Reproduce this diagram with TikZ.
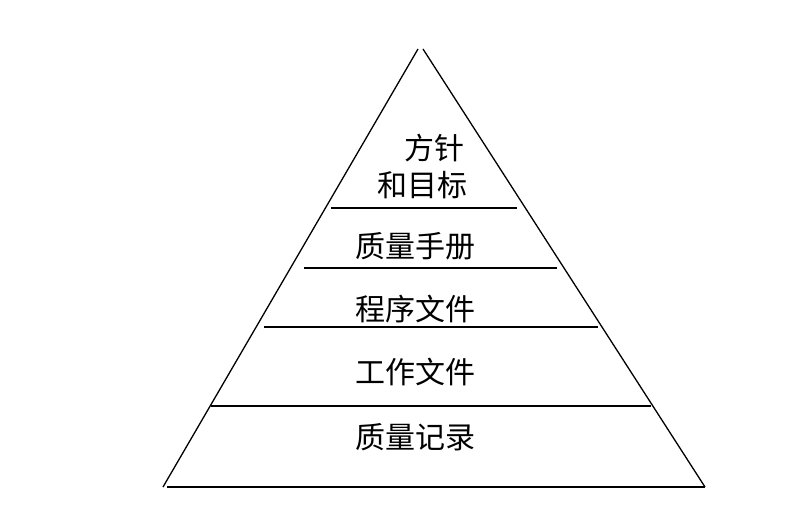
\documentclass[tikz,border=0pt]{standalone}
\usepackage{fontspec}
\newfontfamily\cjk{Noto Sans CJK SC}

\begin{document}
\begin{tikzpicture}[x=1pt,y=-1pt,
  layer/.style={font=\cjk\fontsize{30}{35}\selectfont,inner sep=0pt},
  edge/.style={line width=1.3pt}]
\useasboundingbox (0,0) rectangle (800,521);
\coordinate (T0) at (418,49);
\coordinate (T1) at (423,49);
\coordinate (B0) at (163,487);
\coordinate (B1) at (705,487);
\coordinate (L1) at (331,208);
\coordinate (R1) at (517,208);
\coordinate (L2) at (304,268);
\coordinate (R2) at (557,268);
\coordinate (L3) at (264,327);
\coordinate (R3) at (598,327);
\coordinate (L4) at (211,406);
\coordinate (R4) at (651,406);
\coordinate (L5) at (167,487);
\node[layer] (aim1) at (434,148){方针};
\node[layer] (aim2) at (422,185){和目标};
\node[layer] (manual) at (415,246){质量手册};
\node[layer] (proc) at (415,309){程序文件};
\node[layer] (work) at (415,372){工作文件};
\node[layer] (rec) at (415,437){质量记录};
\draw[edge] (T0)--(B0);
\draw[edge] (T1)--(B1);
\draw[edge] (L1)--(R1);
\draw[edge] (L2)--(R2);
\draw[edge] (L3)--(R3);
\draw[edge] (L4)--(R4);
\draw[edge] (L5)--(B1);
  \end{tikzpicture}
\end{document}
